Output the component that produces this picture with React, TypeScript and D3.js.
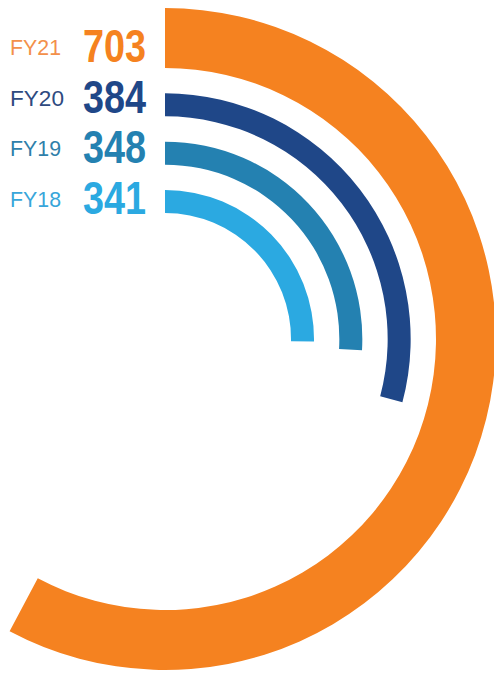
import React from "react";
import * as d3 from "d3";

const categories = ["FY21", "FY20", "FY19", "FY18"];
const values = [703, 384, 348, 341];
const colors = ["#F58220", "#1F4788", "#2481B1", "#2BA9E1"];
const labelColors = ["#F3904A", "#2E4A80", "#2F7FAA", "#38A6DA"];

const W = 494;
const H = 675;
const cx = 165;
const cy = 339;

export default function App() {
  const ext = d3.extent(values) as [number, number];
  const angle = d3.scaleLinear().domain(ext).range([91, 208]);
  // ring index (outermost = 0) -> inner radius
  const inner = d3.scaleLinear().domain([categories.length - 1, 0]).range([126, 271]);
  const thickness = (i: number) => (i === 0 ? 60 : 23);
  const rowY = d3.scalePoint<string>().domain(categories).range([62, 214]);

  const arcGen = d3.arc<any>();

  return (
    <svg width={W} height={H} style={{ position: "absolute", left: 0, top: 0 }}>
      <rect width={W} height={H} fill="#fff" />
      <g transform={`translate(${cx},${cy})`}>
        {values.map((v, i) => (
          <path
            key={categories[i]}
            d={
              arcGen({
                innerRadius: inner(i),
                outerRadius: inner(i) + thickness(i),
                startAngle: 0,
                endAngle: (angle(v) * Math.PI) / 180,
              }) as string
            }
            fill={colors[i]}
          />
        ))}
      </g>
      {categories.map((c, i) => (
        <g key={c}>
          <text
            x={10}
            y={(rowY(c) as number) - 7}
            fontFamily="'Liberation Sans', Arial, sans-serif"
            fontSize={22}
            fill={labelColors[i]}
            textLength={i === 1 ? 54 : 51}
            lengthAdjust="spacingAndGlyphs"
          >
            {c}
          </text>
          <text
            x={83}
            y={rowY(c) as number}
            fontFamily="'Liberation Sans', Arial, sans-serif"
            fontWeight="bold"
            fontSize={47}
            fill={colors[i]}
            textLength={63}
            lengthAdjust="spacingAndGlyphs"
          >
            {values[i]}
          </text>
        </g>
      ))}
    </svg>
  );
}
